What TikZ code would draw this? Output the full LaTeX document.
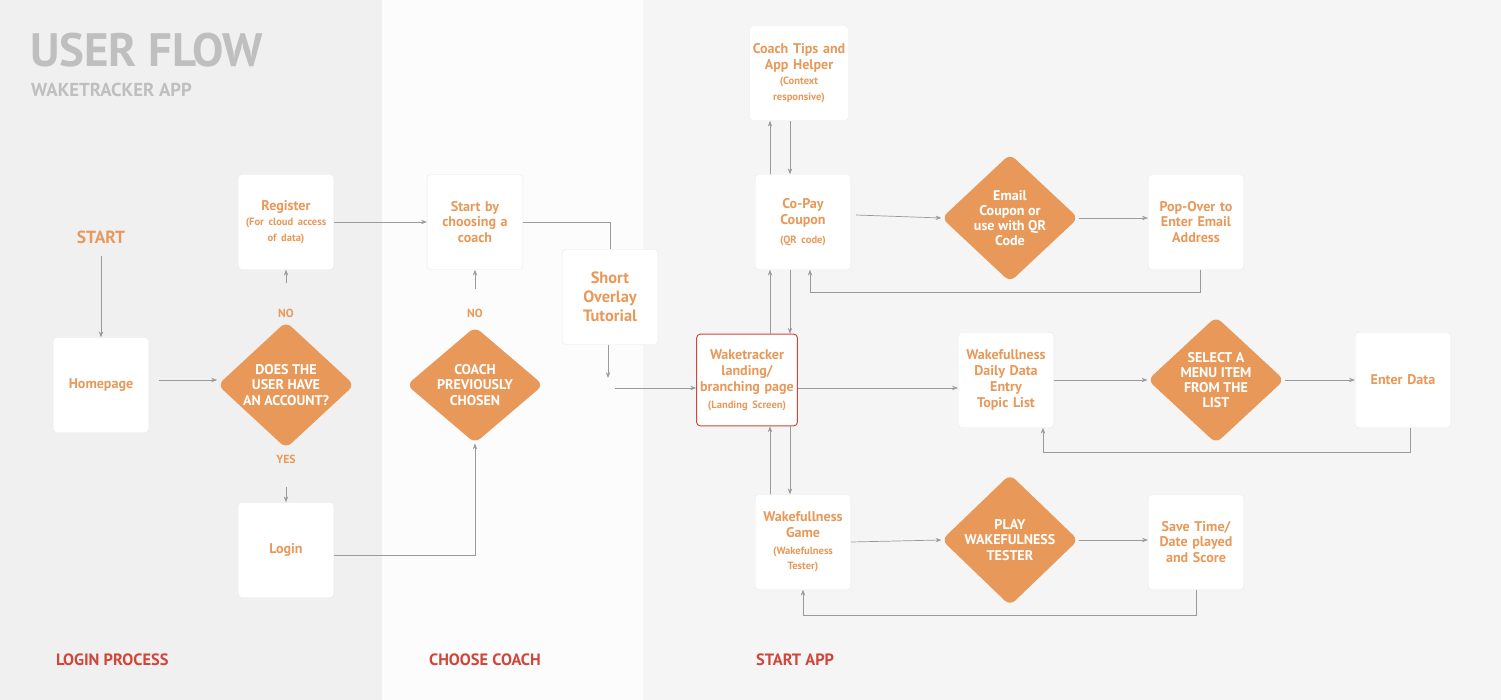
\documentclass[tikz,border=0pt]{standalone}
\usepackage{fontspec}
\setmainfont{PT Sans}
\usetikzlibrary{shapes.geometric, arrows.meta, positioning}
\definecolor{wtorange}{HTML}{E8995A}
\definecolor{wtred}{HTML}{D0463A}
\definecolor{wtline}{HTML}{9A9A9A}
\tikzset{
  box/.style={draw=black!8, fill=white, rounded corners=3pt, minimum width=2.85cm, minimum height=2.85cm,
    align=center, text width=2.8cm, inner sep=1pt, font=\fontsize{12}{13.5}\selectfont\bfseries, text=wtorange},
  dia/.style={diamond, aspect=1, fill=wtorange, rounded corners=6pt, minimum width=4.1cm,
    align=center, font=\fontsize{12}{13}\selectfont\bfseries, text=white, inner sep=0pt},
  flow/.style={draw=wtline, -{Stealth[length=5pt]}, line width=0.6pt},
  plain/.style={draw=wtline, line width=0.6pt},
  tag/.style={font=\fontsize{10}{11}\selectfont\bfseries, text=wtorange},
  section/.style={font=\fontsize{14}{15}\selectfont\bfseries, text=wtred, anchor=west},
  small/.style={font=\fontsize{7.5}{8.5}\selectfont}
}
\begin{document}
\begin{tikzpicture}[x=0.03cm, y=-0.03cm]
        % Panels
        \fill[black!6] (0,0) rectangle (382,700);
        \fill[black!1] (382,0) rectangle (643,700);
        \fill[black!4] (643,0) rectangle (1501,700);
        \useasboundingbox (0,0) rectangle (1501,700);

        % Title
        \node[anchor=west, text=black!25, font=\fontsize{40}{40}\selectfont\bfseries] at (26,50) {USER FLOW};
        \node[anchor=west, text=black!25, font=\fontsize{16}{16}\selectfont\bfseries] at (27,90) {WAKETRACKER APP};

        % Login process
        \node[tag, font=\fontsize{15}{15}\selectfont\bfseries] (start) at (101,237) {START};
        \node[box] (home) at (101,385) {Homepage};
        \node[dia] (account) at (286,385) {DOES THE\\USER HAVE\\AN ACCOUNT?};
        \node[box] (register) at (286,222) {Register\\[2pt]{\small (For cloud access\\of data)}};
        \node[box] (login) at (286,550) {Login};

        % Choose coach
        \node[box] (choose) at (475,222) {Start by\\choosing a\\coach};
        \node[dia] (chosen) at (475,385) {COACH\\PREVIOUSLY\\CHOSEN};
        \node[box, font=\fontsize{14}{16}\selectfont\bfseries] (tutorial) at (610,297) {Short\\Overlay\\Tutorial};

        % Start app
        \node[box, draw=wtred, line width=0.8pt, minimum width=3cm, minimum height=2.75cm, text width=2.95cm] (landing) at (747,380) {Waketracker\\landing/\\branching page\\[1pt]{\small (Landing Screen)}};
        \node[box, text width=2.9cm] (tips) at (799,73) {Coach Tips and\\App Helper\\[2pt]{\small (Context\\responsive)}};
        \node[box] (copay) at (803,222) {Co-Pay\\Coupon\\[3pt]{\small (QR code)}};
        \node[dia] (email) at (1010,218) {Email\\Coupon or\\use with QR\\Code};
        \node[box] (popover) at (1196,222) {Pop-Over to\\Enter Email\\Address};
        \node[box] (daily) at (1006,380) {Wakefullness\\Daily Data\\Entry\\Topic List};
        \node[dia] (menu) at (1216,380) {SELECT A\\MENU ITEM\\FROM THE\\LIST};
        \node[box] (enter) at (1403,380) {Enter Data};
        \node[box] (game) at (803,542) {Wakefullness\\Game\\[3pt]{\small (Wakefulness\\Tester)}};
        \node[dia] (play) at (1010,540) {PLAY\\WAKEFULNESS\\TESTER};
        \node[box] (save) at (1196,542) {Save Time/\\Date played\\and Score};

        % Sections
        \node[section] at (52,660) {LOGIN PROCESS};
        \node[section] at (425,660) {CHOOSE COACH};
        \node[section] at (752,660) {START APP};

        % Connectors, login
        \draw[flow] (start.south) ++(0,8) -- (home.north);
        \draw[flow] (home.east) ++(10,-5) -- ++(58,0);
        \draw[flow] (account.north) ++(0,-38) -- (register.south);
        \node[tag] at (286,313) {NO};
        \draw[flow] (account.south) ++(0,38) -- (login.north);
        \node[tag] at (286,459) {YES};
        \draw[flow] (register.east) -- (choose.west);
        \draw[flow] (login.east) ++(0,5) -| (chosen.south);
        \draw[flow] (chosen.north) ++(0,-38) -- (choose.south);
        \node[tag] at (475,313) {NO};

        % Connectors, coach to app
        \draw[plain] (choose.east) -| (tutorial.north);
        \coordinate (tutend) at (608,378);
        \draw[flow] (tutorial.south) ++(-2,0) -- (tutend);
        \draw[flow] (615,388) -- (landing.west |- 0,388);

        % Connectors, app
        \draw[flow] (landing.north -| 770,0) -- (copay.south -| 770,0);
        \draw[flow] (copay.south -| 790,0) -- (landing.north -| 790,0);
        \draw[flow] (copay.north -| 770,0) -- (tips.south -| 770,0);
        \draw[flow] (tips.south -| 790,0) -- (copay.north -| 790,0);
        \draw[flow] (game.north -| 770,0) -- (landing.south -| 770,0);
        \draw[flow] (landing.south -| 790,0) -- (game.north -| 790,0);
        \draw[flow] (copay.east) ++(5,-7) -- (email.west);
        \draw[flow] (email.east) -- (popover.west |- email.east);
        \draw[flow] (popover.south -| 1200,0) -- (1200,292) -- (810,292) -- (copay.south -| 810,0);
        \draw[flow] (landing.east |- 0,388) -- (daily.west |- 0,388);
        \draw[flow] (daily.east) -- (menu.west);
        \draw[flow] (menu.east) -- (enter.west);
        \draw[flow] (enter.south -| 1410,0) -- (1410,452) -- (1043,452) -- (daily.south -| 1043,0);
        \draw[flow] (game.east) -- (play.west);
        \draw[flow] (play.east) -- (save.west |- play.east);
        \draw[flow] (save.south) -- (1196,615) -- (803,615) -- (game.south);
    \end{tikzpicture}
\end{document}
